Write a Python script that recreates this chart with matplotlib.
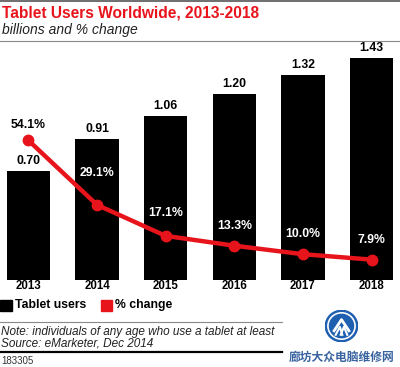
"""Tablet users worldwide, 2013-2018: bars with % change line."""

import matplotlib.pyplot as plt
from matplotlib.patches import Ellipse, Rectangle
from matplotlib.lines import Line2D

YEARS = ["2013", "2014", "2015", "2016", "2017", "2018"]
USERS = [0.70, 0.91, 1.06, 1.20, 1.32, 1.43]
PCT_CHANGE = [54.1, 29.1, 17.1, 13.3, 10.0, 7.9]
PCT_LABELS = ["54.1%", "29.1%", "17.1%", "13.3%", "10.0%", "7.9%"]

RED = "#e8141b"
FONT = "Liberation Sans"

W, H = 400, 367
fig = plt.figure(figsize=(W / 100, H / 100), dpi=100)


def fy(py):
    return 1 - py / H


ax = fig.add_axes([0, fy(280), 1, (280 - 45) / H])
ax2 = ax.twinx()

x = list(range(len(YEARS)))
ax.bar(x, USERS, width=0.63, color="black", zorder=2)
ax.set_xlim(-0.415, 5.415)
ax.set_ylim(0, 1.516)
ax2.set_ylim(0, 91.1)

for xi, v in zip(x, USERS):
    ax.annotate(f"{v:.2f}", (xi, v), xytext=(0, 3), textcoords="offset points",
                ha="center", va="bottom", fontsize=8.8, fontweight="bold",
                family=FONT, color="black")

ax2.plot(x, PCT_CHANGE, color=RED, linewidth=3.2, marker="o", markersize=7.5,
         solid_capstyle="round", zorder=3)

offsets = [7, 19, 12, 10, 10, 10]
for xi, p, lab, off, u in zip(x, PCT_CHANGE, PCT_LABELS, offsets, USERS):
    inside = p / 91.1 < u / 1.516
    ax2.annotate(lab, (xi, p), xytext=(0, off), textcoords="offset points",
                 ha="center", va="bottom", fontsize=8.8, fontweight="bold",
                 family=FONT, color="white" if inside else "black")

for a in (ax, ax2):
    a.axis("off")

for xi, yr in zip(x, YEARS):
    fig.text((28.5 + 68.6 * xi) / W, fy(286), yr, ha="center", va="center",
             fontsize=8.3, fontweight="bold", family=FONT)

# title block
fig.add_artist(Line2D([0, 1], [fy(0.5), fy(0.5)], color="#555555", lw=1.2))
fig.text(2 / W, fy(13), "Tablet Users Worldwide, 2013-2018", ha="left", va="center",
         fontsize=11.2, fontweight="bold", family=FONT, color=RED)
fig.text(2 / W, fy(30), "billions and % change", ha="left", va="center",
         fontsize=10, style="italic", family=FONT, color="#222222")
fig.add_artist(Line2D([0, 1], [fy(41), fy(41)], color="#888888", lw=0.8))

# legend
fig.add_artist(Rectangle((0, fy(311)), 12 / W, 11 / H, color="black"))
fig.text(15 / W, fy(305), "Tablet users", ha="left", va="center",
         fontsize=8.8, fontweight="bold", family=FONT)
fig.add_artist(Rectangle((101 / W, fy(311)), 11 / W, 11 / H, color=RED))
fig.text(115 / W, fy(305), "% change", ha="left", va="center",
         fontsize=8.8, fontweight="bold", family=FONT)

# notes
fig.add_artist(Line2D([0, 282 / W], [fy(322), fy(322)], color="#888888", lw=0.8))
fig.text(1 / W, fy(332), "Note: individuals of any age who use a tablet at least",
         ha="left", va="center", fontsize=8.5, style="italic", family=FONT, color="#222222")
fig.text(1 / W, fy(343), "Source: eMarketer, Dec 2014",
         ha="left", va="center", fontsize=8.5, style="italic", family=FONT, color="#222222")
fig.add_artist(Line2D([0, 282 / W], [fy(352), fy(352)], color="black", lw=1.6))
fig.text(1 / W, fy(361), "183305", ha="left", va="center", fontsize=7,
         family=FONT, color="#333333")

# watermark
logo = fig.add_axes([325 / W, fy(342), 33 / W, 32 / H])
logo.set_xlim(-1, 1)
logo.set_ylim(-1, 1)
logo.axis("off")
logo.add_patch(Ellipse((0, 0), 1.96, 1.96, color="#1f5fb0"))
logo.add_patch(Ellipse((0, 0), 1.66, 1.66, color="white"))
logo.add_patch(Ellipse((0, 0), 1.46, 1.46, color="#1f5fb0"))
logo.plot([-0.45, 0, 0.45], [-0.3, 0.4, -0.3], color="white", lw=2)
logo.plot([-0.35, -0.1, 0.05], [-0.55, -0.05, -0.55], color="white", lw=1.5)
logo.plot([-0.05, 0.15, 0.35], [-0.55, -0.05, -0.55], color="white", lw=1.5)
fig.text(342 / W, fy(357), "廊坊大众电脑维修网", ha="center", va="center",
         fontsize=8.5, fontweight="bold", family=["Noto Sans CJK SC", "DejaVu Sans"],
         color="#3a64a0")

fig.savefig("out.png", dpi=100)
